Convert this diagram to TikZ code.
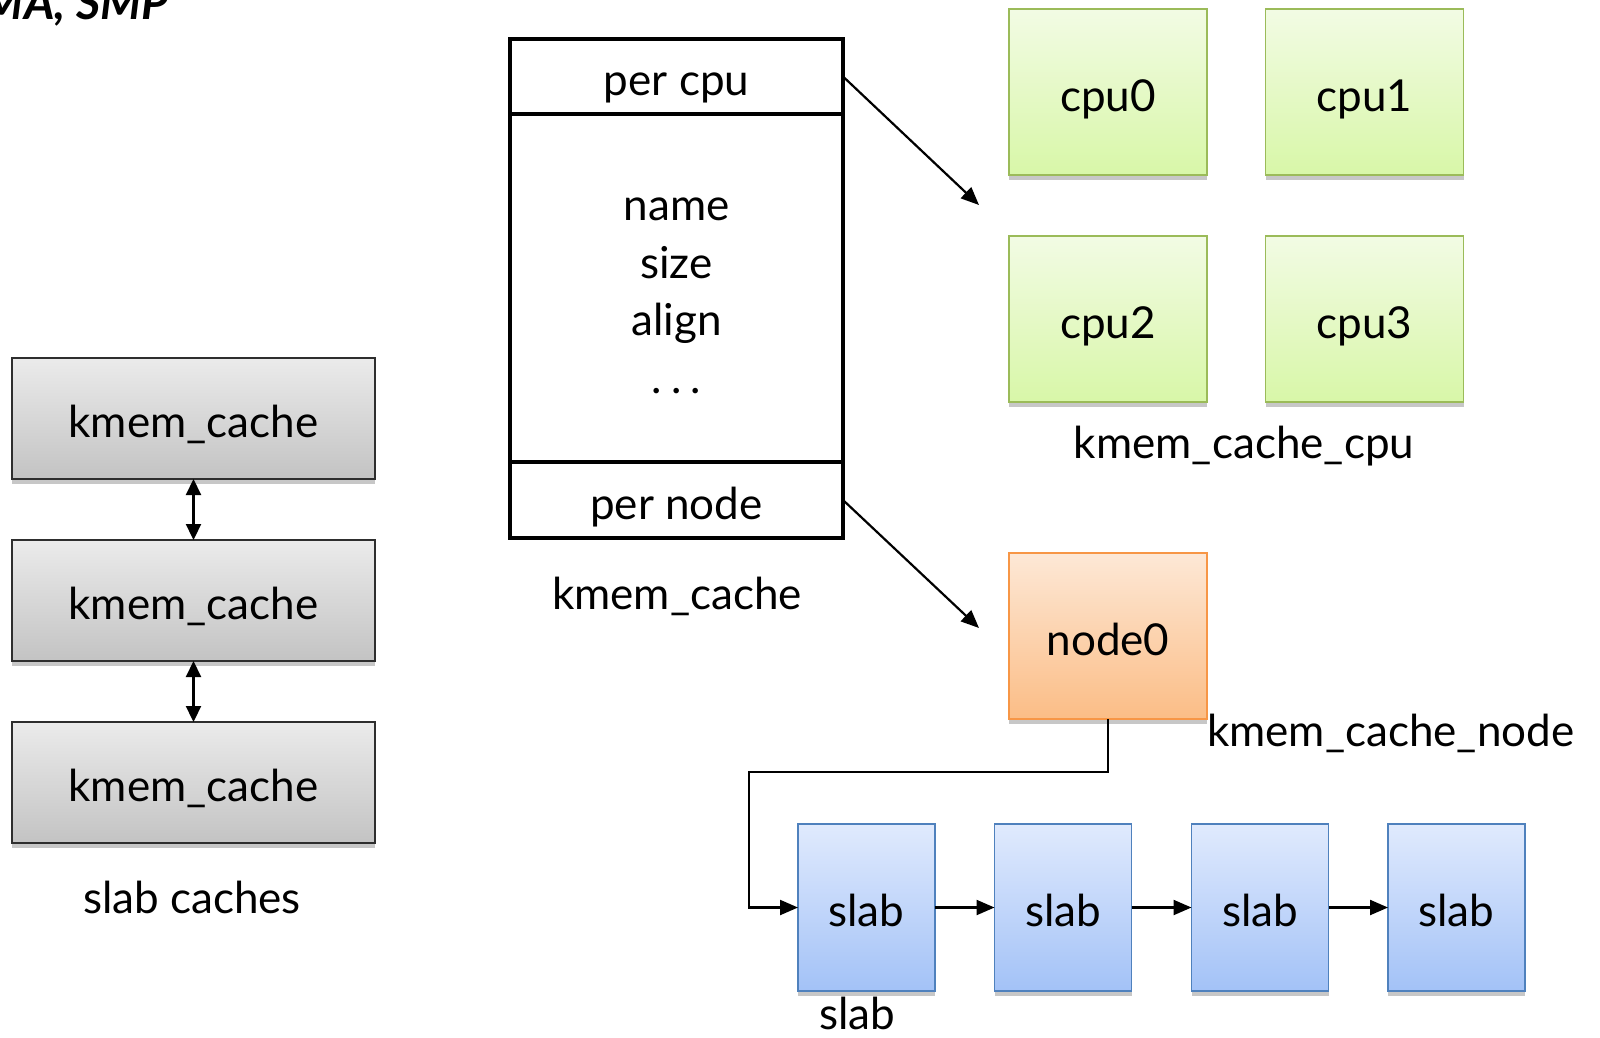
\documentclass[tikz,border=0pt]{standalone}
\usepackage{fontspec}
\setmainfont{Lato}
\usetikzlibrary{arrows.meta,shadows}

\definecolor{greytop}{HTML}{EBEBEB}
\definecolor{greybot}{HTML}{C3C3C3}
\definecolor{greyline}{HTML}{2E2E2E}
\definecolor{greentop}{HTML}{F2FBE4}
\definecolor{greenbot}{HTML}{D8F7A8}
\definecolor{greenline}{HTML}{9BBB59}
\definecolor{orangetop}{HTML}{FDE8D6}
\definecolor{orangebot}{HTML}{FBBD86}
\definecolor{orangeline}{HTML}{F79646}
\definecolor{bluetop}{HTML}{E0EAFD}
\definecolor{bluebot}{HTML}{A3C2F7}
\definecolor{blueline}{HTML}{4F81BD}

\begin{document}
\begin{tikzpicture}[x=1pt,y=-1pt,
  every node/.style={font=\fontsize{44}{53}\selectfont, inner sep=0pt, outer sep=0pt},
  % boxed text sits with its baseline 19pt below the box centre
  boxtext/.style={text height=38pt, text depth=0pt},
  shadowed/.style={drop shadow={shadow xshift=0pt, shadow yshift=-5pt, opacity=0.22, fill=black}},
  cachebox/.style={boxtext, shadowed, draw=greyline, line width=1.8pt,
    top color=greytop, bottom color=greybot, minimum width=363pt, minimum height=121pt},
  cpubox/.style={boxtext, shadowed, draw=greenline, line width=1.8pt,
    top color=greentop, bottom color=greenbot, minimum width=198pt, minimum height=166pt},
  nodebox/.style={boxtext, shadowed, draw=orangeline, line width=1.8pt,
    top color=orangetop, bottom color=orangebot, minimum width=198pt, minimum height=166pt},
  slabbox/.style={boxtext, shadowed, draw=blueline, line width=1.8pt,
    top color=bluetop, bottom color=bluebot, minimum width=137pt, minimum height=167pt},
  field/.style={boxtext, draw=black, line width=4pt, minimum width=333pt},
  label/.style={anchor=base},
  link/.style={line width=2.2pt, -{Triangle[length=18pt,width=15pt]}},
  dlink/.style={line width=2.2pt, {Triangle[length=16pt,width=15pt]}-{Triangle[length=16pt,width=15pt]}}
]
\useasboundingbox (0,0) rectangle (1600,1037);
\clip (0,0) rectangle (1600,1037);

% heading
\node[anchor=base east, font=\fontsize{47}{56}\selectfont\bfseries\itshape] (title) at (169,19) {MA, SMP};

% list of slab caches
\node[cachebox] (c1) at (193.5,418.5) {kmem\_cache};
\node[cachebox] (c2) at (193.5,600.5) {kmem\_cache};
\node[cachebox] (c3) at (193.5,782.5) {kmem\_cache};
\draw[dlink] (c1.south) -- (c2.north);
\draw[dlink] (c2.south) -- (c3.north);
\node[label] (lcaches) at (192,913) {slab caches};

% kmem_cache structure
\node[field, minimum height=75pt] (pcpu) at (676.5,76.5) {per cpu};
\node[field, minimum height=348pt] (body) at (676.5,288) {};
\node[field, minimum height=76pt] (pnode) at (676.5,500) {per node};
\node[label] (fname) at (676.5,220) {name};
\node[label] (fsize) at (676.5,278) {size};
\node[label] (falign) at (676.5,335) {align};
\node[label] (fdots) at (676.5,393) {.\hspace{9pt}.\hspace{9pt}.};
\node[label] (lstruct) at (677,609) {kmem\_cache};

% per-cpu caches
\node[cpubox] (cpu0) at (1108,92) {cpu0};
\node[cpubox] (cpu1) at (1364.5,92) {cpu1};
\node[cpubox] (cpu2) at (1108,319) {cpu2};
\node[cpubox] (cpu3) at (1364.5,319) {cpu3};
\node[label] (lcpu) at (1244,458) {kmem\_cache\_cpu};

% per-node cache
\node[nodebox] (node0) at (1108,636) {node0};
\node[anchor=base west] (lnode) at (1207,746) {kmem\_cache\_node};

% slab list
\node[slabbox] (s1) at (866.5,907.5) {slab};
\node[slabbox] (s2) at (1063,907.5) {slab};
\node[slabbox] (s3) at (1260,907.5) {slab};
\node[slabbox] (s4) at (1456.5,907.5) {slab};
\node[label] (lslab) at (857,1029) {slab};

% pointers
\coordinate (cpuend) at (979,205);
\coordinate (nodeend) at (979,628);
\draw[link] (pcpu.east) -- (cpuend);
\draw[link] (pnode.east) -- (nodeend);
\draw[link] (node0.south) -- ++(0,53) -| (749,907.5) -- (s1.west);
\draw[link] (s1) -- (s2);
\draw[link] (s2) -- (s3);
\draw[link] (s3) -- (s4);
\end{tikzpicture}
\end{document}
